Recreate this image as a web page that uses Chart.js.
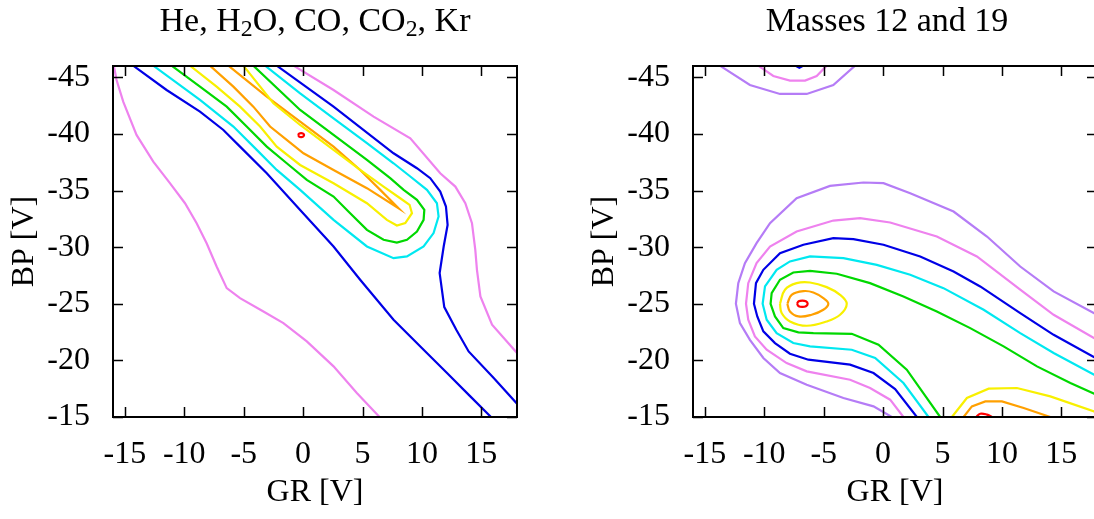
<!DOCTYPE html>
<html lang="en">
<head>
<meta charset="UTF-8">
<title>Contours</title>
<script src="https://cdn.jsdelivr.net/npm/chart.js"></script>
<style>
  body { margin: 0; width: 1094px; height: 519px; overflow: hidden; background: #fff; position: relative; }
  .panel { position: absolute; top: 0; width: 560px; height: 519px; }
  .ttl { position: absolute; top: 3px; font: 34px/1 'Liberation Serif', 'DejaVu Serif', serif; color: #000; text-align: center; white-space: nowrap; }
  .ttl sub { font-size: 70%; vertical-align: -0.22em; line-height: 0; }
</style>
</head>
<body>
<div class="panel" style="left:0"><canvas id="left" width="560" height="519"></canvas></div>
<div class="panel" style="left:580px"><canvas id="right" width="560" height="519"></canvas></div>
<div class="ttl" style="left:0; width:630px">He, H<sub>2</sub>O, CO, CO<sub>2</sub>, Kr</div>
<div class="ttl" style="left:580px; width:614px">Masses 12 and 19</div>
<script>
// axis ticks
const xTicks = [-15, -10, -5, 0, 5, 10, 15];
const yTicks = [-45, -40, -35, -30, -25, -20, -15];

// ---- left panel: He, H2O, CO, CO2, Kr  (GR, BP) pairs ----
const heVioletLow = [[-15.93,-46.03],[-15.70,-44.76],[-15.14,-42.85],[-14.02,-39.91],[-12.61,-37.56],[-11.21,-35.65],[-9.94,-33.88],[-8.96,-32.12],[-8.12,-30.35],[-7.28,-28.29],[-6.43,-26.38],[-5.31,-25.50],[-3.34,-24.32],[-1.66,-23.29],[0.31,-21.68],[2.56,-19.47],[4.52,-17.12],[6.43,-15.0]];
const heVioletHigh = [[-0.81,-46.03],[2.56,-43.88],[5.93,-41.53],[9.02,-39.62],[11.54,-36.53],[12.81,-35.35],[13.65,-33.88],[14.21,-32.12],[14.49,-29.76],[14.63,-28.0],[14.92,-25.65],[15.90,-23.15],[18.0,-20.65]];
const heBlueLow = [[-14.30,-46.03],[-11.49,-43.88],[-8.68,-41.97],[-6.71,-40.35],[-5.31,-38.88],[-3.06,-36.53],[-0.25,-33.29],[2.56,-30.06],[4.80,-27.12],[7.61,-23.59],[10.14,-20.94],[12.11,-18.88],[14.07,-16.82],[15.81,-15.0]];
const heBlueHigh = [[-2.22,-46.03],[2.56,-42.41],[7.61,-38.29],[9.58,-36.97],[10.70,-36.09],[11.54,-34.91],[12.02,-33.59],[12.16,-31.97],[11.83,-30.06],[11.49,-27.71],[11.88,-24.71],[12.89,-22.71],[13.93,-20.79],[16.04,-18.44],[18.0,-16.18]];
const heCyan = [[-12.61,-46.03],[-8.68,-43.0],[-5.87,-40.65],[-3.90,-38.59],[-2.22,-36.82],[-0.25,-35.06],[2.56,-32.41],[5.37,-30.06],[7.61,-29.03],[8.74,-29.18],[10.14,-30.06],[10.98,-31.24],[11.40,-32.71],[11.26,-33.88],[10.42,-35.06],[9.02,-36.24],[7.61,-37.41],[5.37,-39.18],[2.56,-41.38],[-0.25,-43.59],[-3.20,-46.03]];
const heGreen = [[-11.07,-46.03],[-8.68,-44.18],[-6.43,-42.41],[-4.75,-40.65],[-3.06,-38.88],[-1.38,-37.41],[0.31,-35.94],[2.56,-34.47],[3.96,-33.0],[5.37,-31.53],[6.77,-30.65],[7.89,-30.41],[8.74,-30.65],[9.58,-31.38],[10.14,-32.41],[10.20,-33.29],[9.58,-34.18],[8.46,-35.06],[7.33,-36.09],[5.37,-37.71],[2.56,-39.91],[-0.25,-42.12],[-4.19,-46.03]];
const heYellow = [[-9.52,-46.03],[-7.28,-44.18],[-5.31,-42.41],[-3.62,-40.65],[-2.22,-38.88],[-0.25,-37.26],[2.56,-35.65],[5.37,-33.88],[7.05,-32.41],[7.89,-31.91],[8.60,-32.12],[9.16,-33.0],[8.96,-33.74],[8.17,-34.32],[6.77,-35.35],[4.80,-36.82],[2.56,-38.59],[-0.25,-40.79],[-2.50,-42.71],[-5.03,-46.03]];
const heOrange = [[-7.84,-46.03],[-5.87,-44.18],[-4.19,-42.41],[-2.78,-40.65],[-1.38,-39.47],[0.03,-38.29],[2.56,-36.82],[5.37,-35.21],[8.03,-33.44],[6.49,-35.06],[4.80,-36.82],[2.56,-38.88],[-0.25,-41.09],[-3.06,-43.29],[-6.29,-46.03]];
const heRed = [[-0.42,-39.9],[-0.34,-40.03],[-0.17,-40.08],[0.0,-40.03],[0.08,-39.9],[0.0,-39.77],[-0.17,-39.72],[-0.34,-39.77],[-0.42,-39.9]];

// ---- right panel: masses 12 and 19 ----
const mPurpleTop = [[-13.74,-46.03],[-11.21,-44.32],[-8.68,-43.53],[-6.43,-43.53],[-4.19,-44.32],[-2.36,-46.03]];
const mVioletTop = [[-10.51,-46.03],[-9.24,-45.12],[-7.84,-44.71],[-6.57,-44.71],[-5.59,-45.12],[-4.75,-46.03]];
const mBlueTop = [[-7.4,-46.05],[-7.05,-45.85],[-6.7,-46.05]];
const mPurple = [[0.73,-15.0],[-0.81,-15.94],[-3.34,-16.68],[-6.43,-17.85],[-8.68,-18.88],[-10.08,-20.21],[-11.21,-21.82],[-12.05,-23.29],[-12.39,-25.0],[-12.19,-26.82],[-11.63,-28.59],[-10.65,-30.35],[-9.52,-32.12],[-7.28,-34.32],[-4.47,-35.41],[-1.66,-35.71],[0.03,-35.65],[2.28,-34.76],[5.93,-33.15],[8.74,-30.94],[11.54,-28.29],[14.35,-26.09],[18.0,-24.03]];
const mViolet = [[1.71,-15.0],[0.59,-16.53],[-1.10,-17.56],[-2.78,-18.29],[-6.43,-19.03],[-8.12,-19.76],[-9.80,-20.94],[-10.79,-22.12],[-11.35,-23.59],[-11.54,-25.0],[-11.35,-26.82],[-10.65,-28.59],[-9.52,-30.06],[-7.28,-31.38],[-4.19,-32.35],[-1.94,-32.56],[0.59,-32.18],[4.52,-30.94],[7.89,-29.18],[11.54,-26.24],[14.35,-24.03],[18.0,-21.82]];
const mBlue = [[2.84,-15.0],[1.01,-17.47],[-0.81,-18.88],[-2.78,-19.62],[-6.29,-20.06],[-7.84,-20.59],[-9.10,-21.53],[-10.08,-22.56],[-10.59,-23.88],[-10.87,-25.0],[-10.70,-26.82],[-10.08,-28.0],[-8.68,-29.47],[-6.71,-30.21],[-4.19,-30.79],[-2.50,-30.71],[0.03,-30.21],[3.12,-29.18],[5.93,-27.85],[8.17,-26.53],[11.54,-24.18],[14.35,-22.26],[18.0,-20.15]];
const mCyan = [[3.82,-15.0],[1.71,-18.0],[-0.67,-20.21],[-2.64,-20.94],[-6.15,-21.24],[-7.56,-21.53],[-8.96,-22.41],[-9.80,-23.59],[-10.14,-25.0],[-9.94,-26.53],[-8.96,-28.0],[-7.84,-28.74],[-6.15,-29.18],[-3.34,-29.03],[-0.53,-28.44],[2.28,-27.56],[5.08,-26.38],[8.46,-24.47],[11.54,-22.41],[14.35,-20.65],[18.0,-18.6]];
const mGreen = [[4.80,-15.0],[1.99,-19.18],[-0.39,-21.38],[-2.64,-22.35],[-5.87,-22.41],[-7.13,-22.47],[-8.40,-22.85],[-9.10,-23.88],[-9.47,-25.0],[-9.38,-25.94],[-8.68,-27.12],[-7.56,-27.76],[-6.15,-27.91],[-3.90,-27.65],[-1.10,-26.82],[1.71,-25.65],[4.52,-24.32],[7.33,-22.85],[10.14,-21.24],[12.95,-19.47],[15.76,-18.0],[18.0,-16.95]];
const mYellow = [[-8.68,-25.0],[-8.26,-26.24],[-7.28,-26.82],[-6.15,-26.88],[-4.75,-26.47],[-3.62,-25.79],[-3.06,-25.0],[-3.62,-24.03],[-4.75,-23.44],[-6.43,-23.06],[-7.84,-23.44],[-8.54,-24.18],[-8.68,-25.0]];
const mOrange = [[-8.06,-25.0],[-7.70,-25.79],[-6.71,-26.12],[-5.87,-26.0],[-5.03,-25.5],[-4.61,-25.0],[-5.03,-24.47],[-6.01,-24.03],[-7.13,-23.88],[-7.84,-24.32],[-8.06,-25.0]];
const mRed = [[-7.25,-25.0],[-7.1,-25.22],[-6.8,-25.28],[-6.5,-25.22],[-6.35,-25.0],[-6.5,-24.78],[-6.8,-24.72],[-7.1,-24.78],[-7.25,-25.0]];
const mYellowLow = [[5.79,-15.0],[7.05,-16.68],[8.88,-17.50],[11.26,-17.56],[14.07,-16.82],[18.0,-15.4]];
const mOrangeLow = [[6.77,-15.0],[7.47,-15.94],[8.60,-16.38],[10.0,-16.38],[11.83,-15.79],[14.07,-15.0]];
const mRedLow = [[7.84,-15.0],[8.17,-15.29],[8.74,-15.21],[9.16,-15.0]];

const C = {
  purple: '#b57cf6', violet: '#ee82ee', blue: '#0000e6', cyan: '#00e8f0',
  green: '#00d800', yellow: '#f8f000', orange: '#ffa000', red: '#ff0000'
};
const serif = "'Liberation Serif', 'DejaVu Serif', serif";
const font = { family: serif, size: 32, weight: 'normal' };

// frame + inward ticks on all four sides
const frame = {
  id: 'frame',
  afterDatasetsDraw(chart) {
    const { ctx, chartArea: a, scales: { x, y } } = chart;
    ctx.save();
    ctx.strokeStyle = '#000';
    ctx.lineWidth = 1.5;
    ctx.beginPath();
    xTicks.forEach(v => {
      const px = Math.round(x.getPixelForValue(v)) + 0.5;
      ctx.moveTo(px, a.bottom); ctx.lineTo(px, a.bottom - 10);
      ctx.moveTo(px, a.top); ctx.lineTo(px, a.top + 10);
    });
    yTicks.forEach(v => {
      const py = Math.round(y.getPixelForValue(v)) + 0.5;
      ctx.moveTo(a.left, py); ctx.lineTo(a.left + 10, py);
      ctx.moveTo(a.right, py); ctx.lineTo(a.right - 10, py);
    });
    ctx.stroke();
    ctx.lineWidth = 2;
    ctx.strokeRect(a.left, a.top, a.right - a.left, a.bottom - a.top);
    ctx.restore();
  }
};

function makeChart(id, lines) {
  return new Chart(document.getElementById(id), {
    type: 'scatter',
    data: {
      datasets: lines.map(l => ({
        data: l[0].map(p => ({ x: p[0], y: p[1] })),
        showLine: true,
        borderColor: l[1],
        borderWidth: 2.2,
        pointRadius: 0,
        tension: l[2] ? 0.4 : 0,
        clip: 0,
        fill: false
      }))
    },
    options: {
      responsive: false,
      animation: false,
      layout: { padding: { left: 0, right: 43, top: 66, bottom: 0 } },
      plugins: {
        legend: { display: false },
        tooltip: { enabled: false },
        title: { display: false }
      },
      scales: {
        x: {
          type: 'linear', min: -16, max: 18,
          afterBuildTicks: s => { s.ticks = xTicks.map(v => ({ value: v })); },
          afterFit: s => { s.height = 102; },
          grid: { display: false, drawTicks: false },
          border: { display: false },
          ticks: { color: '#000', font: font, padding: 18, maxRotation: 0, autoSkip: false },
          title: { display: true, text: 'GR [V]', color: '#000', font: font, padding: { top: 0, bottom: 7 } }
        },
        y: {
          type: 'linear', min: -46, max: -15, reverse: true,
          afterBuildTicks: s => { s.ticks = yTicks.map(v => ({ value: v })); },
          afterFit: s => { s.width = 113; },
          grid: { display: false, drawTicks: false },
          border: { display: false },
          ticks: { color: '#000', font: font, padding: 23, autoSkip: false },
          title: { display: true, text: 'BP [V]', color: '#000', font: font, padding: { top: 5, bottom: 0 } }
        }
      }
    },
    plugins: [frame]
  });
}

makeChart('left', [
  [heVioletLow, C.violet], [heVioletHigh, C.violet],
  [heBlueLow, C.blue], [heBlueHigh, C.blue],
  [heCyan, C.cyan], [heGreen, C.green], [heYellow, C.yellow], [heOrange, C.orange],
  [heRed, C.red, true]
]);

makeChart('right', [
  [mPurpleTop, C.purple], [mVioletTop, C.violet], [mBlueTop, C.blue],
  [mPurple, C.purple], [mViolet, C.violet], [mBlue, C.blue], [mCyan, C.cyan], [mGreen, C.green],
  [mYellow, C.yellow, true], [mOrange, C.orange, true], [mRed, C.red, true],
  [mYellowLow, C.yellow], [mOrangeLow, C.orange], [mRedLow, C.red, true]
]);
</script>
</body>
</html>
